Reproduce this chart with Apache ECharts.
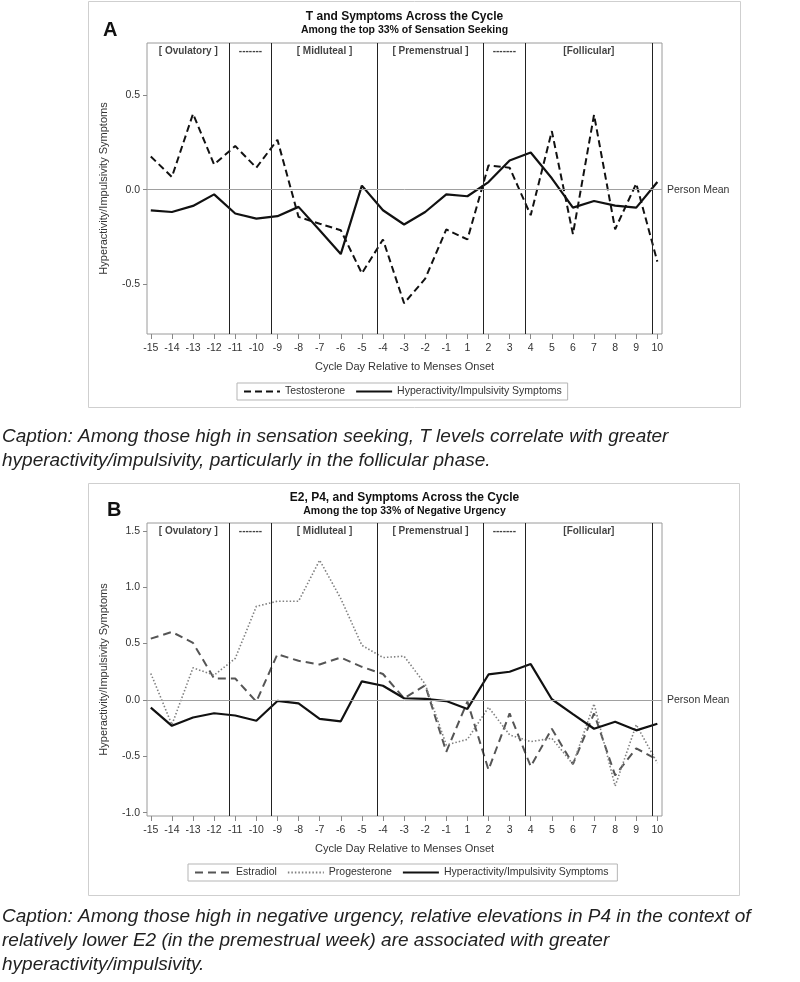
<!DOCTYPE html>
<html>
<head>
<meta charset="utf-8">
<script src="https://cdn.jsdelivr.net/npm/echarts@6/dist/echarts.min.js"></script>
<style>
html,body{margin:0;padding:0;background:#fff;}
#main{width:800px;height:982px;}
</style>
</head>
<body>
<div id="main"></div>
<script>
// ---------- data ----------
var days = ['-15','-14','-13','-12','-11','-10','-9','-8','-7','-6','-5','-4','-3','-2','-1','1','2','3','4','5','6','7','8','9','10'];
var testosterone = [0.175, 0.067, 0.40, 0.133, 0.23, 0.116, 0.263, -0.144, -0.18, -0.214, -0.442, -0.263, -0.60, -0.47, -0.21, -0.263, 0.128, 0.116, -0.135, 0.309, -0.235, 0.395, -0.209, 0.032, -0.38];
var symptomsA = [-0.109, -0.118, -0.086, -0.025, -0.126, -0.153, -0.14, -0.091, -0.214, -0.34, 0.021, -0.109, -0.184, -0.118, -0.025, -0.035, 0.04, 0.154, 0.196, 0.06, -0.095, -0.06, -0.084, -0.095, 0.04];
var estradiol = [0.544, 0.603, 0.506, 0.19, 0.19, -0.015, 0.406, 0.347, 0.315, 0.376, 0.294, 0.23, 0.015, 0.13, -0.46, -0.015, -0.62, -0.12, -0.59, -0.256, -0.57, -0.12, -0.67, -0.43, -0.53];
var progesterone = [0.235, -0.22, 0.285, 0.22, 0.368, 0.83, 0.876, 0.876, 1.24, 0.9, 0.485, 0.376, 0.388, 0.14, -0.40, -0.35, -0.065, -0.31, -0.37, -0.34, -0.57, -0.035, -0.765, -0.22, -0.56];
var symptomsB = [-0.068, -0.23, -0.156, -0.118, -0.138, -0.185, -0.009, -0.03, -0.168, -0.19, 0.165, 0.126, 0.015, 0.009, -0.01, -0.08, 0.226, 0.25, 0.318, 0.006, -0.126, -0.256, -0.194, -0.27, -0.212];
// phase boundaries (positions on the day index scale) and phase labels
var phaseBounds = [3.73, 5.72, 10.74, 15.76, 17.74, 23.77];
var phaseLabels = ['[ Ovulatory ]', '-------', '[ Midluteal ]', '[ Premenstrual ]', '-------', '[Follicular]'];
var yTicksA = [-0.5, 0, 0.5];
var yTicksB = [-1.0, -0.5, 0, 0.5, 1.0, 1.5];

var titleA = 'T and Symptoms Across the Cycle';
var subA = 'Among the top 33% of Sensation Seeking';
var titleB = 'E2, P4, and Symptoms Across the Cycle';
var subB = 'Among the top 33% of Negative Urgency';
var captionA = ['Caption: Among those high in sensation seeking, T levels correlate with greater',
                'hyperactivity/impulsivity, particularly in the follicular phase.'];
var captionB = ['Caption: Among those high in negative urgency, relative elevations in P4 in the context of',
                'relatively lower E2 (in the premestrual week) are associated with greater',
                'hyperactivity/impulsivity.'];

// ---------- helpers ----------
var FONT = '"Liberation Sans", Arial, sans-serif';
var xMin = -0.18, xMax = 24.22;
var idx = days.map(function (d, i) { return i; });
function pairs(arr) { return arr.map(function (v, i) { return [i, v]; }); }
function mids(yTop) {
  var edges = [xMin].concat(phaseBounds);
  return phaseLabels.map(function (lab, i) {
    return { name: lab, value: [(edges[i] + edges[i + 1]) / 2, yTop] };
  });
}

var chart = echarts.init(document.getElementById('main'), null, { renderer: 'canvas' });

function xAxisCfg(gi) {
  return {
    type: 'value', gridIndex: gi, min: xMin, max: xMax, position: 'bottom',
    axisLine: { show: false, onZero: false },
    splitLine: { show: false },
    axisTick: { show: true, customValues: idx, length: 5, lineStyle: { color: '#888' } },
    axisLabel: { customValues: idx, margin: 9, color: '#333', fontSize: 10.5, fontFamily: FONT,
      formatter: function (v) { var k = Math.round(v); return days[k] !== undefined ? days[k] : ''; } },
    name: 'Cycle Day Relative to Menses Onset', nameLocation: 'middle', nameGap: 27,
    nameTextStyle: { color: '#333', fontSize: 11, fontFamily: FONT }
  };
}
function yAxisCfg(gi, mn, mx, ticks) {
  return {
    type: 'value', gridIndex: gi, min: mn, max: mx, position: 'left',
    axisLine: { show: false, onZero: false },
    splitLine: { show: false },
    axisTick: { show: true, customValues: ticks, length: 4, lineStyle: { color: '#888' } },
    axisLabel: { customValues: ticks, margin: 7, color: '#333', fontSize: 10.5, fontFamily: FONT,
      formatter: function (v) { return v.toFixed(1); } },
    name: 'Hyperactivity/Impulsivity Symptoms', nameLocation: 'middle', nameGap: 38,
    nameTextStyle: { color: '#333', fontSize: 11, fontFamily: FONT }
  };
}
function phaseSeries(gi, yTop) {
  return {
    type: 'scatter', xAxisIndex: gi, yAxisIndex: gi, name: 'phase' + gi,
    symbolSize: 0, silent: true, z: 1,
    data: mids(yTop),
    label: { show: true, position: 'bottom', distance: 3, formatter: '{b}',
      color: '#111', fontSize: 10, fontWeight: 'bold', fontFamily: FONT },
    markLine: {
      silent: true, symbol: ['none', 'none'], animation: false,
      label: { show: false },
      lineStyle: { color: '#222', width: 1, type: 'solid' },
      emphasis: { disabled: true },
      data: phaseBounds.map(function (b) { return { xAxis: b }; })
    }
  };
}
function zeroLine() {
  return {
    silent: true, symbol: ['none', 'none'], animation: false,
    lineStyle: { color: '#a0a0a0', width: 1, type: 'solid' },
    label: { show: true, position: 'end', formatter: 'Person Mean', color: '#333', fontSize: 10.5, fontFamily: FONT, distance: 5 },
    emphasis: { disabled: true },
    data: [{ yAxis: 0 }]
  };
}
function legendCfg(names, left, top) {
  return { data: names, left: left, top: top,
    itemWidth: 36, itemHeight: 10, itemGap: 10, padding: [3, 6],
    itemStyle: { opacity: 0, borderWidth: 0 },
    borderColor: '#b5b5b5', borderWidth: 1, borderRadius: 0,
    textStyle: { color: '#333', fontSize: 10.5, fontFamily: FONT } };
}

var gridA = { left: 147, right: 138, top: 43, height: 291, show: true, borderColor: '#9a9a9a', borderWidth: 1, backgroundColor: '#fff' };
var gridB = { left: 147, right: 138, top: 523, height: 293, show: true, borderColor: '#9a9a9a', borderWidth: 1, backgroundColor: '#fff' };

var option = {
  animation: false,
  backgroundColor: '#fff',
  grid: [gridA, gridB],
  xAxis: [xAxisCfg(0), xAxisCfg(1)],
  yAxis: [yAxisCfg(0, -0.762, 0.774, yTicksA), yAxisCfg(1, -1.03, 1.57, yTicksB)],
  legend: [
    legendCfg(['Testosterone', 'Hyperactivity/Impulsivity Symptoms'], 237, 383),
    legendCfg(['Estradiol', 'Progesterone', 'Hyperactivity/Impulsivity Symptoms '], 188, 864)
  ],
  series: [
    phaseSeries(0, 0.774),
    { type: 'line', name: 'Testosterone', xAxisIndex: 0, yAxisIndex: 0, data: pairs(testosterone),
      symbol: 'none', z: 3, lineStyle: { color: '#111', width: 2, type: [7, 4] }, itemStyle: { color: '#111' } },
    { type: 'line', name: 'Hyperactivity/Impulsivity Symptoms', xAxisIndex: 0, yAxisIndex: 0, data: pairs(symptomsA),
      symbol: 'none', z: 4, lineStyle: { color: '#111', width: 2.2, type: 'solid' }, itemStyle: { color: '#111' },
      markLine: zeroLine() },
    phaseSeries(1, 1.57),
    { type: 'line', name: 'Estradiol', xAxisIndex: 1, yAxisIndex: 1, data: pairs(estradiol),
      symbol: 'none', z: 3, lineStyle: { color: '#555', width: 2, type: [8, 5] }, itemStyle: { color: '#555' } },
    { type: 'line', name: 'Progesterone', xAxisIndex: 1, yAxisIndex: 1, data: pairs(progesterone),
      symbol: 'none', z: 3, lineStyle: { color: '#808080', width: 1.6, type: [1.5, 2] }, itemStyle: { color: '#808080' } },
    { type: 'line', name: 'Hyperactivity/Impulsivity Symptoms ', xAxisIndex: 1, yAxisIndex: 1, data: pairs(symptomsB),
      symbol: 'none', z: 4, lineStyle: { color: '#111', width: 2.2, type: 'solid' }, itemStyle: { color: '#111' },
      markLine: zeroLine() }
  ],
  graphic: [
    { type: 'rect', silent: true, z: -10, shape: { x: 88.5, y: 1.5, width: 652, height: 406 }, style: { fill: 'none', stroke: '#cfcfcf', lineWidth: 1 } },
    { type: 'rect', silent: true, z: -10, shape: { x: 88.5, y: 483.5, width: 651, height: 412 }, style: { fill: 'none', stroke: '#cfcfcf', lineWidth: 1 } },
    { type: 'text', silent: true, x: 103, y: 30, style: { text: 'A', font: 'bold 20px ' + FONT, fill: '#111', align: 'left', verticalAlign: 'middle' } },
    { type: 'text', silent: true, x: 404.5, y: 17, style: { text: titleA, font: 'bold 12px ' + FONT, fill: '#111', align: 'center', verticalAlign: 'middle' } },
    { type: 'text', silent: true, x: 404.5, y: 30, style: { text: subA, font: 'bold 10.5px ' + FONT, fill: '#111', align: 'center', verticalAlign: 'middle' } },
    { type: 'text', silent: true, x: 107, y: 510, style: { text: 'B', font: 'bold 20px ' + FONT, fill: '#111', align: 'left', verticalAlign: 'middle' } },
    { type: 'text', silent: true, x: 404.5, y: 498, style: { text: titleB, font: 'bold 12px ' + FONT, fill: '#111', align: 'center', verticalAlign: 'middle' } },
    { type: 'text', silent: true, x: 404.5, y: 511, style: { text: subB, font: 'bold 10.5px ' + FONT, fill: '#111', align: 'center', verticalAlign: 'middle' } },
    { type: 'text', silent: true, x: 2, y: 437, style: { text: captionA[0], font: 'italic 19px ' + FONT, fill: '#222', align: 'left', verticalAlign: 'middle' } },
    { type: 'text', silent: true, x: 2, y: 461, style: { text: captionA[1], font: 'italic 19px ' + FONT, fill: '#222', align: 'left', verticalAlign: 'middle' } },
    { type: 'text', silent: true, x: 2, y: 917, style: { text: captionB[0], font: 'italic 19px ' + FONT, fill: '#222', align: 'left', verticalAlign: 'middle' } },
    { type: 'text', silent: true, x: 2, y: 941, style: { text: captionB[1], font: 'italic 19px ' + FONT, fill: '#222', align: 'left', verticalAlign: 'middle' } },
    { type: 'text', silent: true, x: 2, y: 965, style: { text: captionB[2], font: 'italic 19px ' + FONT, fill: '#222', align: 'left', verticalAlign: 'middle' } }
  ]
};
chart.setOption(option);
</script>
</body>
</html>
